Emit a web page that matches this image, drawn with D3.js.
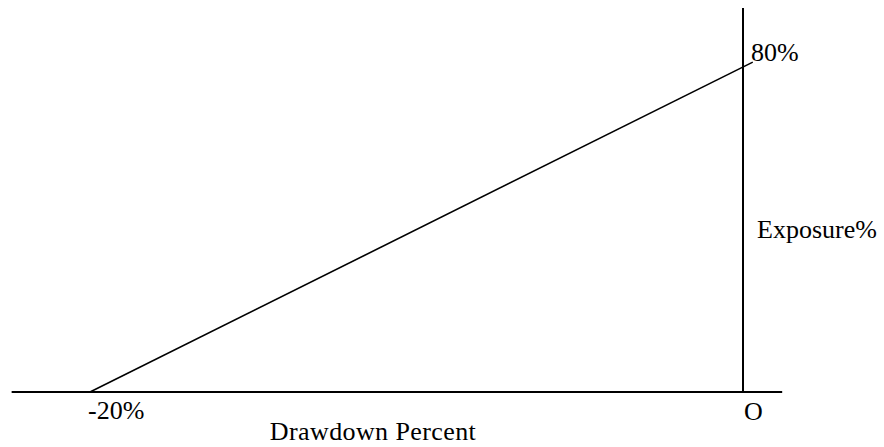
<!DOCTYPE html>
<html lang="en">
  <head>
    <meta charset="UTF-8" />
    <title>Exposure vs Drawdown</title>
    <script src="https://cdn.jsdelivr.net/npm/d3@7"></script>
    <style>
      body {
        margin: 0;
        background: #fff;
      }
      text {
        font-family: "Liberation Serif", "Times New Roman", serif;
        font-size: 26px;
        fill: #000;
      }
    </style>
  </head>
  <body>
    <svg width="884" height="447"></svg>
    <script>
      const svg = d3.select("svg");

      // drawdown (%) -> exposure (%)
      const drawdown = [-20, 0.3];
      const exposure = [0, 81.2];

      // extent of the two axis lines, in data units
      const xAxisExtent = [-22.4, 1.2];
      const yAxisExtent = [0, 94.5];

      const x = d3.scaleLinear().domain([-20, 0]).range([90, 743]);
      const y = d3.scaleLinear().domain([0, 80]).range([392, 67]);

      // horizontal axis
      svg
        .append("line")
        .attr("x1", x(xAxisExtent[0]))
        .attr("x2", x(xAxisExtent[1]))
        .attr("y1", y(0))
        .attr("y2", y(0))
        .attr("stroke", "#000")
        .attr("stroke-width", 2);

      // vertical axis at 0
      svg
        .append("line")
        .attr("x1", x(0))
        .attr("x2", x(0))
        .attr("y1", y(yAxisExtent[0]))
        .attr("y2", y(yAxisExtent[1]))
        .attr("stroke", "#000")
        .attr("stroke-width", 2);

      const points = drawdown.map((d, i) => [d, exposure[i]]);

      svg
        .append("path")
        .datum(points)
        .attr("fill", "none")
        .attr("stroke", "#000")
        .attr("stroke-width", 1.6)
        .attr(
          "d",
          d3
            .line()
            .x((d) => x(d[0]))
            .y((d) => y(d[1]))
        );

      // labels
      svg.append("text").attr("x", 751).attr("y", 61).text("80%");
      svg.append("text").attr("x", 757).attr("y", 238).text("Exposure%");
      svg.append("text").attr("x", x(-20) - 2).attr("y", 419).text("-20%");
      svg.append("text").attr("x", x(0) + 1).attr("y", 420).text("O");
      svg
        .append("text")
        .attr("x", 373)
        .attr("y", 440)
        .attr("text-anchor", "middle")
        .attr("letter-spacing", 0.4)
        .text("Drawdown Percent");
    </script>
  </body>
</html>
